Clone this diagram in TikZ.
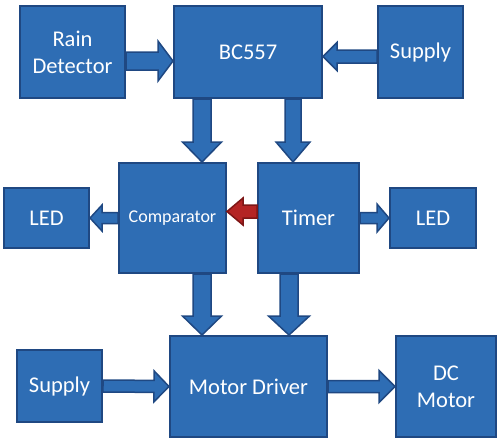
\documentclass[tikz,border=0pt]{standalone}
\usepackage{fontspec}
\setmainfont{Carlito}
\usetikzlibrary{calc}
\definecolor{myblue}{RGB}{46,109,180}
\definecolor{mydarkblue}{RGB}{31,72,130}
\definecolor{myred}{RGB}{180,36,36}
\definecolor{mydarkred}{RGB}{125,22,22}

\begin{document}
\begin{tikzpicture}[x=1pt,y=-1pt]
\tikzset{BlockStyle/.style ={draw = mydarkblue, fill = myblue, line width = 2pt, text = white,
  inner sep = 0pt, align = center, font = \fontsize{22.5}{27}\selectfont}}
\tikzset{ArrowStyle/.style ={draw = mydarkblue, fill = myblue, line width = 1.5pt, line join = miter}}
\tikzset{RedArrowStyle/.style ={draw = mydarkred, fill = myred, line width = 1.5pt, line join = miter}}
% shaft half width / head half width / head length
\tikzset{fat/.style args={#1/#2/#3}{to path={
  let \p1 = (\tikztostart), \p2 = (\tikztotarget),
      \n1 = {atan2(\y2-\y1,\x2-\x1)} in
  ($(\p1)+(\n1+90:#1)$) -- ($(\p2)+(\n1+180:#3)+(\n1+90:#1)$)
  -- ($(\p2)+(\n1+180:#3)+(\n1+90:#2)$) -- (\p2)
  -- ($(\p2)+(\n1+180:#3)+(\n1-90:#2)$) -- ($(\p2)+(\n1+180:#3)+(\n1-90:#1)$)
  -- ($(\p1)+(\n1-90:#1)$) -- cycle}}}
\useasboundingbox (0,0) rectangle (500,440);
% blocks
\node[BlockStyle, minimum width=105pt, minimum height=92pt] (rain) at (72.5,52) {Rain\\Detector};
\node[BlockStyle, minimum width=148pt, minimum height=92pt] (bc) at (248,52) {BC557};
\node[BlockStyle, minimum width=85pt, minimum height=92pt] (supplyA) at (420.5,52) {Supply};
\node[BlockStyle, minimum width=107pt, minimum height=110pt, font=\fontsize{18}{22}\selectfont] (comp) at (172.5,218) {Comparator};
\node[BlockStyle, minimum width=101pt, minimum height=110pt] (timer) at (308.5,218) {Timer};
\node[BlockStyle, minimum width=85pt, minimum height=60pt] (ledA) at (46.5,218) {LED};
\node[BlockStyle, minimum width=86pt, minimum height=60pt] (ledB) at (433,218) {LED};
\node[BlockStyle, minimum width=157pt, minimum height=101pt] (driver) at (248.5,386.5) {Motor Driver};
\node[BlockStyle, minimum width=85pt, minimum height=72pt] (supplyB) at (59.5,386) {Supply};
\node[BlockStyle, minimum width=100pt, minimum height=101pt] (motor) at (446,386.5) {DC\\Motor};
% arrows
\draw[ArrowStyle, fat=9pt/20pt/15pt] ([yshift=-9pt]rain.east) to ([yshift=-9pt]bc.west);
\draw[ArrowStyle, fat=6.5pt/14pt/14pt] ([yshift=-4.5pt]supplyA.west) to ([yshift=-4.5pt]bc.east);
\draw[ArrowStyle, fat=9pt/19.5pt/20pt] ([xshift=-46pt]bc.south) to ([xshift=29.5pt]comp.north);
\draw[ArrowStyle, fat=8pt/17pt/20pt] ([xshift=45pt]bc.south) to ([xshift=-15.5pt]timer.north);
\draw[ArrowStyle, fat=5.5pt/13pt/12pt] (comp.west) to (ledA.east);
\draw[RedArrowStyle, fat=6.5pt/13.5pt/16pt] ([yshift=6.5pt]timer.west) to ([yshift=6.5pt]comp.east);
\draw[ArrowStyle, fat=5.5pt/14pt/12pt] (timer.east) to (ledB.west);
\draw[ArrowStyle, fat=9pt/19.5pt/19pt] ([xshift=29.5pt]comp.south) to ([xshift=-46.5pt]driver.north);
\draw[ArrowStyle, fat=9pt/20.5pt/19pt] ([xshift=-19.5pt]timer.south) to ([xshift=40.5pt]driver.north);
\draw[ArrowStyle, fat=6pt/15.5pt/15pt] (supplyB.east) to (driver.west);
\draw[ArrowStyle, fat=6pt/16pt/16pt] (driver.east) to (motor.west);
\end{tikzpicture}
\end{document}
